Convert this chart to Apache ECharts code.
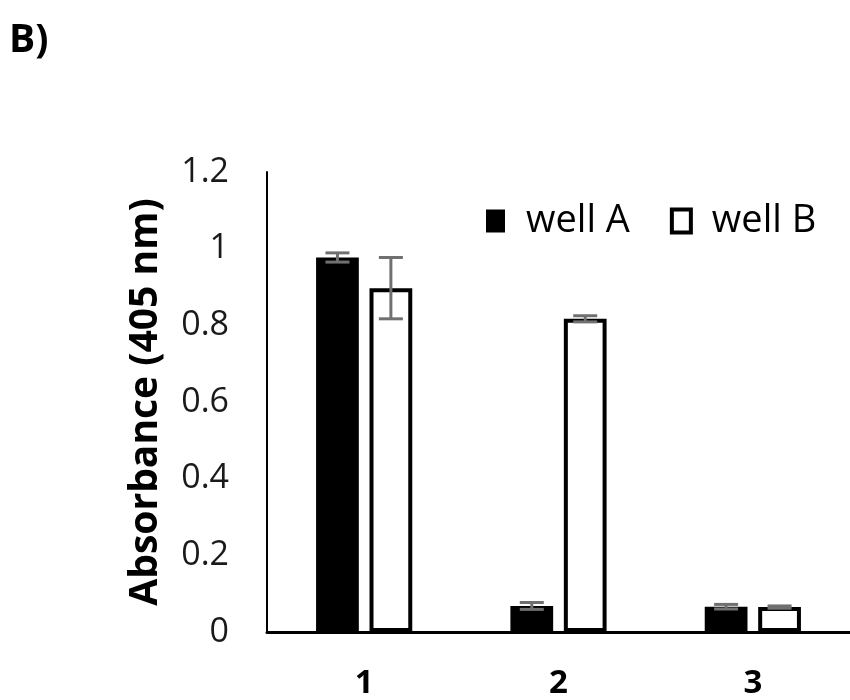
<!DOCTYPE html>
<html>
<head>
<meta charset="utf-8">
<script src="https://cdn.jsdelivr.net/npm/echarts@6/dist/echarts.min.js"></script>
<style>
  html, body { margin: 0; padding: 0; background: #fff; }
  #main { width: 850px; height: 700px; }
</style>
</head>
<body>
<div id="main"></div>
<script>
// data
var categories = ['1', '2', '3'];
var wellA = [0.977, 0.068, 0.066];
var wellAErr = [0.012, 0.009, 0.006];
var wellB = [0.897, 0.817, 0.065];
var wellBErr = [0.080, 0.008, 0.003];
var yTicks = [0, 0.2, 0.4, 0.6, 0.8, 1, 1.2];

var FONT = '"Open Sans", "Noto Sans", sans-serif';
var BAR_W = 0.22;   // share of the category band
var BAR_GAP = 0.25; // share of a bar width

var chartDom = document.getElementById('main');
var myChart = echarts.init(chartDom);

// error bars drawn over the grouped bars
function errorSeries(vals, errs, side) {
    var data = [];
    for (var i = 0; i < vals.length; i++) {
        data.push([i, vals[i] - errs[i], vals[i] + errs[i]]);
    }
    return {
        type: 'custom',
        name: side < 0 ? 'errA' : 'errB',
        z: 10,
        data: data,
        renderItem: function (params, api) {
            var band = api.size([1, 0])[0];
            var bw = band * BAR_W;
            var off = side * (bw + bw * BAR_GAP) / 2;
            var lo = api.coord([api.value(0), api.value(1)]);
            var hi = api.coord([api.value(0), api.value(2)]);
            var x = lo[0] + off;
            var cap = 12;
            var style = { stroke: '#707070', lineWidth: 3 };
            return {
                type: 'group',
                children: [
                    { type: 'line', shape: { x1: x, y1: lo[1], x2: x, y2: hi[1] }, style: style },
                    { type: 'line', shape: { x1: x - cap, y1: hi[1], x2: x + cap, y2: hi[1] }, style: style },
                    { type: 'line', shape: { x1: x - cap, y1: lo[1], x2: x + cap, y2: lo[1] }, style: style }
                ]
            };
        }
    };
}

var option = {
    backgroundColor: '#fff',
    animation: false,
    title: {
        text: 'B)',
        left: 4,
        top: 16,
        textStyle: { fontFamily: FONT, fontWeight: 'bold', fontSize: 39, color: '#000' }
    },
    legend: {
        data: [
            { name: 'well A', itemStyle: { color: '#000' } },
            { name: 'well B', itemStyle: { color: '#fff', borderColor: '#000', borderWidth: 4 } }
        ],
        left: 481,
        top: 197,
        icon: 'rect',
        itemWidth: 19,
        itemHeight: 23,
        itemGap: 40,
        textStyle: { fontFamily: FONT, fontSize: 38, color: '#000', padding: [0, 0, 0, 16] }
    },
    grid: {
        left: 267,
        top: 172,
        width: 591,
        height: 460
    },
    xAxis: {
        type: 'category',
        data: categories,
        axisTick: { show: false },
        axisLine: { lineStyle: { color: '#000', width: 3 } },
        axisLabel: {
            margin: 35,
            fontFamily: FONT,
            fontWeight: 'bold',
            fontSize: 33,
            color: '#000'
        }
    },
    yAxis: {
        type: 'value',
        min: yTicks[0],
        max: yTicks[yTicks.length - 1],
        interval: yTicks[1] - yTicks[0],
        name: 'Absorbance (405 nm)',
        nameLocation: 'middle',
        nameGap: 102,
        nameTextStyle: { fontFamily: FONT, fontWeight: 'bold', fontSize: 39, color: '#000' },
        splitLine: { show: false },
        axisTick: { show: false },
        axisLine: { show: true, lineStyle: { color: '#000', width: 2 } },
        axisLabel: {
            margin: 38,
            fontFamily: FONT,
            fontSize: 34,
            color: '#1a1a1a'
        }
    },
    series: [
        {
            name: 'well A',
            type: 'bar',
            barWidth: (BAR_W * 100) + '%',
            barGap: (BAR_GAP * 100) + '%',
            itemStyle: { color: '#000' },
            data: wellA
        },
        {
            name: 'well B',
            type: 'bar',
            barWidth: (BAR_W * 100) + '%',
            barGap: (BAR_GAP * 100) + '%',
            itemStyle: { color: '#fff', borderColor: '#000', borderWidth: 4 },
            data: wellB
        },
        errorSeries(wellA, wellAErr, -1),
        errorSeries(wellB, wellBErr, 1)
    ]
};

myChart.setOption(option);
</script>
</body>
</html>
